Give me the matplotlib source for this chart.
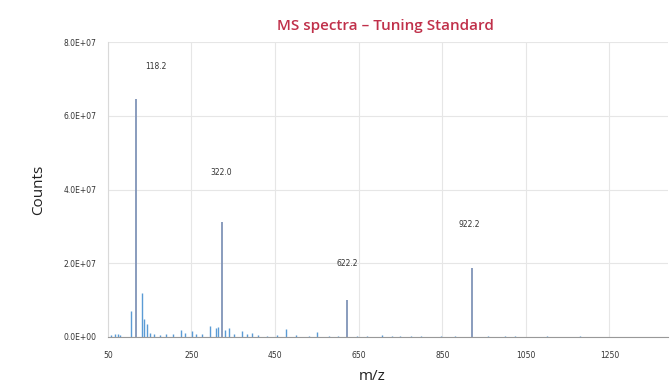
import matplotlib
matplotlib.use("Agg")
import matplotlib.pyplot as plt

# major peaks (m/z, counts) and their annotation text / placement
major_mz = [118.2, 322.0, 622.2, 922.2]
major_counts = [6.45e7, 3.12e7, 1.0e7, 1.87e7]
label_text = ["118.2", "322.0", "622.2", "922.2"]
label_x = [165, 322, 622, 915]
label_y = [7.35e7, 4.45e7, 1.98e7, 3.04e7]

# minor peaks
minor_mz = [58, 66, 74, 80, 104.5, 132.7, 136, 144.7, 150, 160, 175, 190, 205, 225,
            235, 252, 262, 275, 294, 308, 313, 330, 340, 352, 370, 382, 395, 410,
            430, 455, 475, 500, 530, 551, 580, 600, 645, 670, 706, 730, 750, 774,
            800, 847, 880, 960, 1000, 1025, 1100, 1180, 1300]
minor_counts = [0.6e6, 0.9e6, 0.7e6, 0.5e6, 7.1e6, 1.2e7, 4.8e6, 3.6e6, 1.0e6, 0.8e6,
                0.6e6, 0.9e6, 0.7e6, 1.9e6, 1.0e6, 1.5e6, 0.8e6, 0.7e6, 3.1e6, 2.3e6,
                2.7e6, 1.9e6, 2.3e6, 0.9e6, 1.6e6, 0.8e6, 1.0e6, 0.5e6, 0.4e6, 0.5e6,
                2.1e6, 0.5e6, 0.4e6, 1.4e6, 0.4e6, 0.3e6, 0.3e6, 0.3e6, 0.5e6, 0.3e6,
                0.4e6, 0.4e6, 0.3e6, 0.3e6, 0.2e6, 0.2e6, 0.2e6, 0.4e6, 0.2e6, 0.2e6, 0.1e6]

x_ticks = [50, 250, 450, 650, 850, 1050, 1250]
y_ticks = [0, 2e7, 4e7, 6e7, 8e7]
y_tick_labels = ["0.0E+00", "2.0E+07", "4.0E+07", "6.0E+07", "8.0E+07"]

fig = plt.figure(figsize=(6.7, 3.86), dpi=100)
ax = fig.add_axes([0.161, 0.127, 0.836, 0.764])

ax.vlines(minor_mz, 0, minor_counts, color="#5b9bd5", linewidth=1.0)
ax.vlines(major_mz, 0, major_counts, color="#8094b8", linewidth=1.3)

for t, x, y in zip(label_text, label_x, label_y):
    ax.text(x, y, t, ha="center", va="center", fontsize=5.5, color="#333333")

ax.set_xlim(50, 1390)
ax.set_ylim(0, 8e7)
ax.set_xticks(x_ticks)
ax.set_xticklabels([str(v) for v in x_ticks])
ax.set_yticks(y_ticks)
ax.set_yticklabels(y_tick_labels)
ax.tick_params(axis="both", length=0, labelsize=5.5, labelcolor="#333333")
ax.tick_params(axis="y", pad=8)
ax.tick_params(axis="x", pad=10)

ax.grid(True, color="#e6e6e6", linewidth=0.8)
ax.set_axisbelow(True)
for side in ("top", "right"):
    ax.spines[side].set_visible(False)
ax.spines["left"].set_color("#d9d9d9")
ax.spines["bottom"].set_color("#999999")

fig.text(0.575, 0.933, "MS spectra \u2013 Tuning Standard", ha="center", va="center",
         fontsize=11, color="#c0304a", family="Open Sans", weight="semibold")
fig.text(0.057, 0.508, "Counts", rotation=90, ha="center", va="center", fontsize=11,
         color="#222222", family="Open Sans")
fig.text(0.555, 0.025, "m/z", ha="center", va="center", fontsize=11,
         color="#222222", family="Open Sans")

fig.savefig("out.png", dpi=100)
